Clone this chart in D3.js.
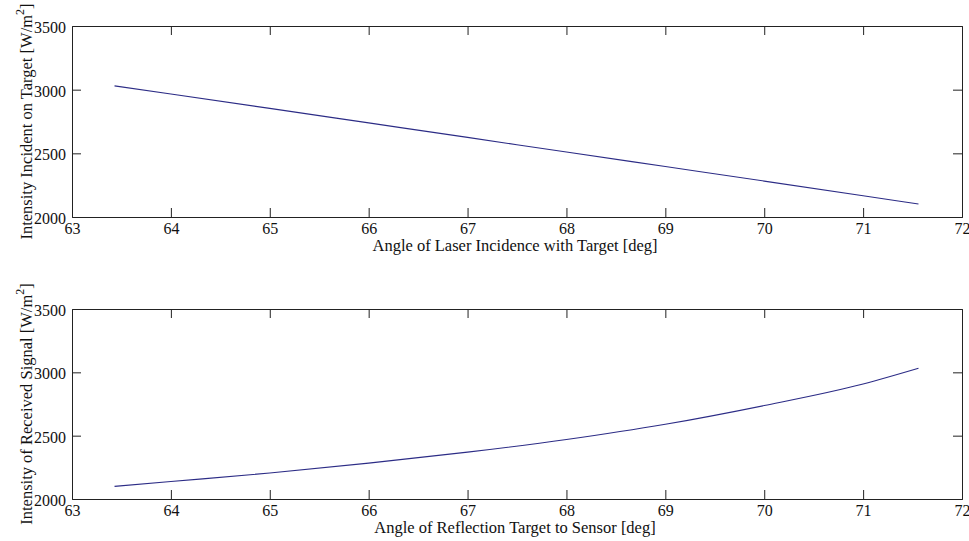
<!DOCTYPE html>
<html>
<head>
<meta charset="utf-8">
<script src="https://cdn.jsdelivr.net/npm/d3@7"></script>
<style>
  html, body { margin: 0; padding: 0; background: #ffffff; }
  svg { display: block; }
  text { font-family: "Liberation Serif", "Times New Roman", serif; fill: #111; }
</style>
</head>
<body>
<svg id="chart" width="969" height="541"></svg>
<script>
// Upper panel: intensity arriving on the target vs. laser incidence angle
const angleIncidence = [63.43, 64, 65, 66, 67, 68, 69, 70, 71, 71.56];
const intensityIncident = [3030, 2966, 2853, 2739, 2625, 2510, 2396, 2282, 2167, 2102];

// Lower panel: intensity returned to the sensor vs. reflection angle
const angleReflection = [63.43, 64, 65, 66, 67, 68, 69, 70, 71, 71.56];
const intensityReceived = [2100, 2138, 2205, 2283, 2370, 2470, 2590, 2738, 2908, 3032];

const xTicks = [63, 64, 65, 66, 67, 68, 69, 70, 71, 72];
const yTicks = [2000, 2500, 3000, 3500];

const xLabels = ["Angle of Laser Incidence with Target [deg]", "Angle of Reflection Target to Sensor [deg]"];
const yLabels = ["Intensity Incident on Target", "Intensity of Received Signal"];

const svg = d3.select("#chart");
const left = 72, right = 962;
const panels = [
  { top: 26, bottom: 217, xs: angleIncidence, ys: intensityIncident, xl: xLabels[0], yl: yLabels[0] },
  { top: 309, bottom: 499, xs: angleReflection, ys: intensityReceived, xl: xLabels[1], yl: yLabels[1] }
];

const tickLen = 9;
const axisColor = "#222";
const tickFont = 16;
const titleFont = 16.5;

panels.forEach(p => {
  const x = d3.scaleLinear().domain([63, 72]).range([left, right]);
  const y = d3.scaleLinear().domain([2000, 3500]).range([p.bottom, p.top]);
  const g = svg.append("g");

  // Data line
  const pts = p.xs.map((v, i) => [v, p.ys[i]]);
  g.append("path")
    .datum(pts)
    .attr("fill", "none")
    .attr("stroke", "#2c2c86")
    .attr("stroke-width", 1.1)
    .attr("d", d3.line().x(d => x(d[0])).y(d => y(d[1])).curve(d3.curveMonotoneX));

  // Bottom axis (inward ticks) and top mirror ticks
  const xb = g.append("g").attr("transform", `translate(0,${p.bottom})`)
    .call(d3.axisBottom(x).tickValues(xTicks).tickSize(-tickLen).tickFormat(d3.format("d")));
  const xt = g.append("g").attr("transform", `translate(0,${p.top})`)
    .call(d3.axisTop(x).tickValues(xTicks).tickSize(-tickLen).tickFormat(""));
  const yl = g.append("g").attr("transform", `translate(${left},0)`)
    .call(d3.axisLeft(y).tickValues(yTicks).tickSize(-tickLen).tickFormat(d3.format("d")));
  const yr = g.append("g").attr("transform", `translate(${right},0)`)
    .call(d3.axisRight(y).tickValues(yTicks).tickSize(-tickLen).tickFormat(""));

  [xb, xt, yl, yr].forEach(a => {
    a.select(".domain").attr("stroke", axisColor);
    a.selectAll(".tick line").attr("stroke", axisColor);
    a.selectAll(".tick text")
      .attr("font-family", "Liberation Serif, serif")
      .attr("font-size", tickFont)
      .attr("fill", "#111");
  });
  // Hide end ticks that coincide with the box edges
  xb.selectAll(".tick").filter(d => d === 63 || d === 72).select("line").remove();
  xt.selectAll(".tick").filter(d => d === 63 || d === 72).select("line").remove();
  yl.selectAll(".tick").filter(d => d === 2000 || d === 3500).select("line").remove();
  yr.selectAll(".tick").filter(d => d === 2000 || d === 3500).select("line").remove();
  xb.selectAll(".tick text").attr("y", 16.5).attr("dy", 0);
  yl.selectAll(".tick text").attr("x", -6).attr("dy", "0.4em");

  // Axis titles
  g.append("text")
    .attr("x", (left + right) / 2 - 2)
    .attr("y", p.bottom + 34)
    .attr("text-anchor", "middle")
    .attr("font-size", titleFont)
    .text(p.xl);

  const yt = g.append("text")
    .attr("transform", `translate(31.5,${(p.top + p.bottom) / 2}) rotate(-90)`)
    .attr("text-anchor", "middle")
    .attr("font-size", titleFont);
  yt.append("tspan").text(p.yl + " [W/m");
  yt.append("tspan").attr("font-size", 12).attr("dy", -8).text("2");
  yt.append("tspan").attr("dy", 8).text("]");
});
</script>
</body>
</html>
